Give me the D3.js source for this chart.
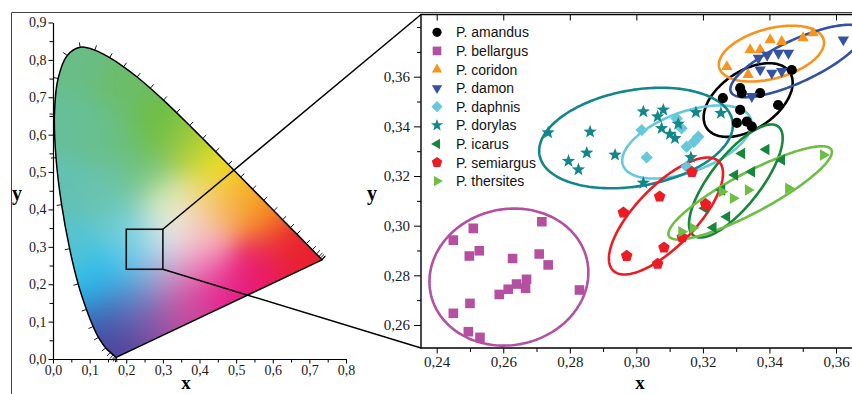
<!DOCTYPE html>
<html><head><meta charset="utf-8">
<script src="https://cdn.jsdelivr.net/npm/d3@7"></script>
<style>body{margin:0;background:#fff}svg{display:block}</style>
</head><body>
<svg id="chart" width="852" height="394"></svg>
<script>
// ---------------- DATA ----------------
// CIE 1931 spectral locus (wavelength nm, x, y)
const locusWavelengths = [380,390,400,410,420,430,440,450,460,470,475,480,485,490,495,500,505,510,515,520,525,530,535,540,545,550,555,560,565,570,575,580,585,590,595,600,605,610,620,630,640,650,660,680,700];
const locusX = [0.1741,0.1738,0.1733,0.1726,0.1714,0.1689,0.1644,0.1566,0.1440,0.1241,0.1096,0.0913,0.0687,0.0454,0.0235,0.0082,0.0039,0.0139,0.0389,0.0743,0.1142,0.1547,0.1929,0.2296,0.2658,0.3016,0.3373,0.3731,0.4087,0.4441,0.4788,0.5125,0.5448,0.5752,0.6029,0.6270,0.6482,0.6658,0.6915,0.7079,0.7190,0.7260,0.7300,0.7334,0.7347];
const locusY = [0.0050,0.0049,0.0048,0.0048,0.0051,0.0069,0.0109,0.0177,0.0297,0.0578,0.0868,0.1327,0.2007,0.2950,0.4127,0.5384,0.6548,0.7502,0.8120,0.8338,0.8262,0.8059,0.7816,0.7543,0.7243,0.6923,0.6589,0.6245,0.5896,0.5547,0.5202,0.4866,0.4544,0.4242,0.3965,0.3725,0.3514,0.3340,0.3083,0.2920,0.2809,0.2740,0.2700,0.2666,0.2653];

const leftXTicks = [0,0.1,0.2,0.3,0.4,0.5,0.6,0.7,0.8];
const leftXMinor = [0.05,0.15,0.25,0.35,0.45,0.55,0.65,0.75];
const leftYTicks = [0,0.1,0.2,0.3,0.4,0.5,0.6,0.7,0.8,0.9];
const leftYMinor = [0.05,0.15,0.25,0.35,0.45,0.55,0.65,0.75,0.85];
const zoomBoxX = [0.2, 0.3];
const zoomBoxY = [0.24, 0.347];

const rightXTicks = [0.24,0.26,0.28,0.30,0.32,0.34,0.36];
const rightXMinor = [0.25,0.27,0.29,0.31,0.33,0.35];
const rightYTicks = [0.26,0.28,0.30,0.32,0.34,0.36];
const rightYMinor = [0.27,0.29,0.31,0.33,0.35,0.37,0.38];

const speciesNames = ["P. amandus","P. bellargus","P. coridon","P. damon","P. daphnis","P. dorylas","P. icarus","P. semiargus","P. thersites"];

const amandus = [[0.3260,0.3514],[0.3312,0.3554],[0.3317,0.3534],[0.3372,0.3534],[0.3426,0.3486],[0.3312,0.3466],[0.3302,0.3414],[0.3332,0.3419],[0.3347,0.3399],[0.3467,0.3627]];
const bellargus = [[0.2716,0.3016],[0.2510,0.2989],[0.2450,0.2942],[0.2498,0.2878],[0.2528,0.2899],[0.2628,0.2868],[0.2708,0.2886],[0.2735,0.2842],[0.2670,0.2784],[0.2640,0.2765],[0.2667,0.2748],[0.2615,0.2744],[0.2588,0.2723],[0.2829,0.2741],[0.2500,0.2687],[0.2450,0.2647],[0.2495,0.2573],[0.2530,0.2550]];
const coridon = [[0.3272,0.3640],[0.3342,0.3708],[0.3372,0.3708],[0.3402,0.3748],[0.3437,0.3741],[0.3501,0.3756],[0.3531,0.3776],[0.3336,0.3608]];
const damon = [[0.3622,0.3749],[0.3367,0.3675],[0.3393,0.3687],[0.3427,0.3695],[0.3457,0.3695],[0.3372,0.3628],[0.3407,0.3615],[0.3437,0.3622],[0.3347,0.3521]];
const daphnis = [[0.3016,0.3385],[0.3121,0.3432],[0.3136,0.3392],[0.3186,0.3358],[0.3173,0.3338],[0.3151,0.3318],[0.3031,0.3275],[0.3151,0.3238]];
const dorylas = [[0.2735,0.3375],[0.2861,0.3378],[0.2851,0.3293],[0.2796,0.3260],[0.2826,0.3226],[0.2936,0.3285],[0.3021,0.3459],[0.3081,0.3466],[0.3064,0.3439],[0.3076,0.3392],[0.3101,0.3369],[0.3116,0.3352],[0.3126,0.3410],[0.3179,0.3456],[0.3254,0.3453],[0.3164,0.3275],[0.3021,0.3172]];
const icarus = [[0.3317,0.3291],[0.3390,0.3307],[0.3437,0.3265],[0.3347,0.3217],[0.3296,0.3204],[0.3257,0.3144],[0.3206,0.3070],[0.3272,0.3036],[0.3231,0.2993]];
const semiargus = [[0.3070,0.3117],[0.2961,0.3053],[0.2971,0.2878],[0.3083,0.2912],[0.3064,0.2846],[0.3208,0.3087],[0.3138,0.2953],[0.3167,0.3216]];
const thersites = [[0.3562,0.3285],[0.3336,0.3144],[0.3457,0.3151],[0.3291,0.3110],[0.3257,0.3137],[0.3136,0.2976],[0.3170,0.2991]];

// confidence ellipses: centre, major semi-axis vector, minor semi-axis vector (data units)
const ellipseCX = [0.3336,0.2617,0.3406,0.3483,0.3152,0.2999,0.3299,0.3089,0.3342];
const ellipseCY = [0.3506,0.2793,0.3693,0.3663,0.3337,0.3353,0.3180,0.3039,0.3132];
const ellipseMajDX = [0.01246,0.02350,0.01568,0.01987,0.01920,0.02900,0.01277,0.01587,0.02440];
const ellipseMajDY = [0.01126,0.00669,0.00563,0.01244,0.00937,0.00685,0.02191,0.02199,0.01740];
const ellipseMinDX = [0.00487,0.00424,0.00194,0.00267,0.00308,0.00251,0.00592,0.00649,0.00282];
const ellipseMinDY = [-0.00967,-0.02678,-0.00973,-0.00766,-0.01135,-0.01905,-0.00620,-0.00840,-0.00711];

// ---------------- STYLE ----------------
const speciesColors = ["#000000","#b4509f","#f7941d","#3452a4","#66c8dc","#11878a","#17853b","#ed1c24","#6dbe45"];
const speciesShapes = ["circle","square","triUp","triDown","diamond","star","triLeft","pentagon","triRight"];
const gradientStops = [
 [0.08,0.80,'#69bd86'],[0.20,0.74,'#6cbd68'],[0.28,0.62,'#6dbe45'],[0.37,0.56,'#a4cb3b'],
 [0.45,0.50,'#f1e514'],[0.52,0.44,'#f7b21c'],[0.58,0.38,'#f4861f'],[0.66,0.31,'#e9252a'],
 [0.70,0.28,'#e81e30'],[0.56,0.26,'#e91a6c'],[0.45,0.20,'#e61b8a'],[0.35,0.14,'#c8489e'],
 [0.25,0.09,'#8a4d9f'],[0.18,0.03,'#4b3f98'],[0.15,0.11,'#3b60b1'],[0.12,0.20,'#28bdef'],
 [0.05,0.30,'#55c3d2'],[0.03,0.45,'#63c1b3'],[0.06,0.62,'#66bf9a'],[0.15,0.45,'#6ac3ae'],
 [0.15,0.60,'#6abf88'],[0.25,0.50,'#6cc07a'],[0.20,0.35,'#6ccbd0'],[0.20,0.25,'#3dc3ee'],
 [0.26,0.30,'#a8def2'],[0.33,0.34,'#f7f7f4'],[0.31,0.42,'#dcedb8'],[0.41,0.42,'#f4e2a0'],
 [0.40,0.33,'#f5c0c8'],[0.40,0.26,'#ef8fc0'],[0.30,0.22,'#c29ac8'],[0.22,0.16,'#5a8ccc'],
 [0.47,0.40,'#f6a45a']
];
const SERIF = '"Liberation Serif","Times New Roman",serif';
const SANS = '"Liberation Sans",Arial,sans-serif';

// ---------------- DRAW ----------------
const svg = d3.select('#chart');
const defs = svg.append('defs');

const xL = d3.scaleLinear().domain([0,0.8]).range([53,346]);
const yL = d3.scaleLinear().domain([0,0.9]).range([359,22.5]);
const xR = d3.scaleLinear().domain([0.24,0.36]).range([436.7,836]);
const yR = d3.scaleLinear().domain([0.26,0.36]).range([325,76.7]);
const R = {l:421, t:14.5, r:852, b:348};

// outer frame
svg.append('path').attr('d',`M11.5,394V12.5H852`).attr('fill','none').attr('stroke','#444').attr('stroke-width',1);

// chromaticity gradient
const stops = gradientStops.map(([x,y,c])=>{const k=d3.rgb(c);return {x,y,r:k.r,g:k.g,b:k.b};});
const gx0 = Math.floor(xL(0)), gy0 = Math.floor(yL(0.9));
const gW = Math.ceil(xL(0.8))-gx0, gH = Math.ceil(yL(0))-gy0;
const cv = document.createElement('canvas'); cv.width=gW; cv.height=gH;
const ctx = cv.getContext('2d'); const img = ctx.createImageData(gW,gH);
const s2 = 2*0.055*0.055;
for(let j=0;j<gH;j++){
  const y = yL.invert(gy0+j+0.5);
  for(let i=0;i<gW;i++){
    const x = xL.invert(gx0+i+0.5);
    let mn = 1e9; const d2s = stops.map(s=>{const d=(x-s.x)**2+(y-s.y)**2; if(d<mn)mn=d; return d;});
    let W=0,r=0,g=0,b=0;
    for(let k=0;k<stops.length;k++){const w=Math.exp(-(d2s[k]-mn)/s2); W+=w; r+=w*stops[k].r; g+=w*stops[k].g; b+=w*stops[k].b;}
    const o=(j*gW+i)*4; img.data[o]=r/W; img.data[o+1]=g/W; img.data[o+2]=b/W; img.data[o+3]=255;
  }
}
ctx.putImageData(img,0,0);
const locusPts = locusX.map((x,i)=>[xL(x), yL(locusY[i])]);
const locusD = d3.line().curve(d3.curveCatmullRom)(locusPts)+'Z';
defs.append('clipPath').attr('id','locusClip').append('path').attr('d',locusD);
svg.append('image').attr('href',cv.toDataURL()).attr('x',gx0).attr('y',gy0).attr('width',gW).attr('height',gH)
  .attr('preserveAspectRatio','none').attr('clip-path','url(#locusClip)');
svg.append('path').attr('d',locusD).attr('fill','none').attr('stroke','#000').attr('stroke-width',1.5);

// wavelength ticks on locus
const wp = [xL(0.333), yL(0.333)];
const tickG = svg.append('g').attr('stroke','#000').attr('stroke-width',0.9);
locusPts.forEach((p,i)=>{
  const a = locusPts[Math.max(0,i-1)], c = locusPts[Math.min(locusPts.length-1,i+1)];
  const tx=c[0]-a[0], ty=c[1]-a[1], len=Math.hypot(tx,ty);
  if(len<0.4) return;
  let nx=-ty/len, ny=tx/len;
  if(nx*(p[0]-wp[0])+ny*(p[1]-wp[1])<0){nx=-nx;ny=-ny;}
  tickG.append('line').attr('x1',p[0]).attr('y1',p[1]).attr('x2',p[0]+5*nx).attr('y2',p[1]+5*ny);
});

// left axes
const f1 = d=>d3.format('.1f')(d).replace('.',',');
const f2 = d=>d3.format('.2f')(d).replace('.',',');
function styleAxis(g,size){ g.attr('font-family',SERIF).attr('font-size',size); g.selectAll('text').attr('fill','#1a1a1a'); g.selectAll('line').attr('stroke','#000'); g.select('.domain').attr('stroke','#000').attr('stroke-width',1.2); }
const axXL = svg.append('g').attr('transform','translate(0,359)');
axXL.call(d3.axisBottom(xL).tickValues(leftXTicks).tickFormat(f1).tickSize(4.5).tickSizeOuter(0).tickPadding(2));
styleAxis(axXL,14);
svg.append('g').attr('transform','translate(0,359)').call(d3.axisBottom(xL).tickValues(leftXMinor).tickFormat('').tickSize(3.5).tickSizeOuter(0)).call(g=>g.select('.domain').remove());
const axYL = svg.append('g').attr('transform','translate(53,0)');
axYL.call(d3.axisLeft(yL).tickValues(leftYTicks).tickFormat(f1).tickSize(4.5).tickSizeOuter(0).tickPadding(2));
styleAxis(axYL,14);
svg.append('g').attr('transform','translate(53,0)').call(d3.axisLeft(yL).tickValues(leftYMinor).tickFormat('').tickSize(3.5).tickSizeOuter(0)).call(g=>g.select('.domain').remove());
svg.append('text').text('x').attr('x',186).attr('y',389).attr('text-anchor','middle').attr('font-family',SERIF).attr('font-weight','bold').attr('font-size',19);
svg.append('text').text('y').attr('x',17).attr('y',200).attr('text-anchor','middle').attr('font-family',SERIF).attr('font-weight','bold').attr('font-size',20);

// zoom box and connectors
svg.append('rect').attr('x',xL(zoomBoxX[0])).attr('y',yL(zoomBoxY[1])).attr('width',xL(zoomBoxX[1])-xL(zoomBoxX[0])).attr('height',yL(zoomBoxY[0])-yL(zoomBoxY[1]))
  .attr('fill','none').attr('stroke','#111').attr('stroke-width',1.6);
svg.append('line').attr('x1',xL(zoomBoxX[1])).attr('y1',yL(zoomBoxY[1])).attr('x2',R.l).attr('y2',R.t).attr('stroke','#000').attr('stroke-width',1.5);
svg.append('line').attr('x1',xL(zoomBoxX[1])).attr('y1',yL(zoomBoxY[0])).attr('x2',R.l).attr('y2',R.b).attr('stroke','#000').attr('stroke-width',1.5);

// right panel
defs.append('clipPath').attr('id','rClip').append('rect').attr('x',R.l).attr('y',R.t).attr('width',R.r-R.l).attr('height',R.b-R.t);
svg.append('rect').attr('x',R.l).attr('y',R.t).attr('width',R.r-R.l).attr('height',R.b-R.t).attr('fill','#fff');

const axXR = svg.append('g').attr('transform',`translate(0,${R.b})`);
axXR.call(d3.axisBottom(xR).tickValues(rightXTicks).tickFormat(f2).tickSize(5.5).tickSizeOuter(0).tickPadding(3));
styleAxis(axXR,15); axXR.select('.domain').remove();
svg.append('g').attr('transform',`translate(0,${R.b})`).call(d3.axisBottom(xR).tickValues(rightXMinor).tickFormat('').tickSize(4).tickSizeOuter(0)).call(g=>g.select('.domain').remove());
const axTop = svg.append('g').attr('transform',`translate(0,${R.t})`);
axTop.call(d3.axisBottom(xR).tickValues(rightXTicks).tickFormat('').tickSize(6).tickSizeOuter(0)).call(g=>g.select('.domain').remove());
const axYR = svg.append('g').attr('transform',`translate(${R.l},0)`);
axYR.call(d3.axisLeft(yR).tickValues(rightYTicks).tickFormat(f2).tickSize(7).tickSizeOuter(0).tickPadding(4));
styleAxis(axYR,15); axYR.select('.domain').remove();
svg.append('g').attr('transform',`translate(${R.l},0)`).call(d3.axisLeft(yR).tickValues(rightYMinor).tickFormat('').tickSize(4).tickSizeOuter(0)).call(g=>g.select('.domain').remove());
svg.append('path').attr('d',`M${R.r},${R.b}H${R.l}V${R.t}H${R.r}`).attr('fill','none').attr('stroke','#000').attr('stroke-width',1.4);
svg.append('text').text('x').attr('x',640).attr('y',389).attr('text-anchor','middle').attr('font-family',SERIF).attr('font-weight','bold').attr('font-size',19);
svg.append('text').text('y').attr('x',372).attr('y',200).attr('text-anchor','middle').attr('font-family',SERIF).attr('font-weight','bold').attr('font-size',20);

// marker shapes
function poly(pts){return 'M'+pts.map(p=>p[0].toFixed(2)+','+p[1].toFixed(2)).join('L')+'Z';}
function regular(n,Rr,rot){const a0=rot*Math.PI/180;return poly(d3.range(n).map(k=>{const a=a0+k*2*Math.PI/n;return [Rr*Math.cos(a),Rr*Math.sin(a)];}));}
function starP(Ro,Ri){return poly(d3.range(10).map(k=>{const a=-Math.PI/2+k*Math.PI/5,r=k%2?Ri:Ro;return [r*Math.cos(a),r*Math.sin(a)];}));}
const shapeFns = {
  circle:s=>d3.symbol(d3.symbolCircle,Math.PI*(5.1*s)**2)(),
  square:s=>{const h=4.8*s;return poly([[-h,-h],[h,-h],[h,h],[-h,h]]);},
  triUp:s=>regular(3,6.6*s,-90), triDown:s=>regular(3,6.6*s,90),
  triLeft:s=>regular(3,6.6*s,180), triRight:s=>regular(3,6.6*s,0),
  diamond:s=>regular(4,6.2*s,-90), star:s=>starP(7*s,2.9*s), pentagon:s=>regular(5,6.1*s,-90)
};

const plot = svg.append('g').attr('clip-path','url(#rClip)');
const allPoints = [amandus,bellargus,coridon,damon,daphnis,dorylas,icarus,semiargus,thersites];
// ellipses
const ts = d3.range(0,2*Math.PI,Math.PI/90);
speciesNames.forEach((n,i)=>{
  const pts = ts.map(t=>[xR(ellipseCX[i]+Math.cos(t)*ellipseMajDX[i]+Math.sin(t)*ellipseMinDX[i]), yR(ellipseCY[i]+Math.cos(t)*ellipseMajDY[i]+Math.sin(t)*ellipseMinDY[i])]);
  plot.append('path').attr('d',d3.line().curve(d3.curveLinearClosed)(pts)).attr('fill','none').attr('stroke',speciesColors[i]).attr('stroke-width',2.6);
});
// points
speciesNames.forEach((n,i)=>{
  const d = shapeFns[speciesShapes[i]](1);
  plot.append('g').selectAll('path').data(allPoints[i]).join('path')
    .attr('d',d).attr('transform',p=>`translate(${xR(p[0])},${yR(p[1])})`).attr('fill',speciesColors[i]);
});
// legend
const leg = svg.append('g');
speciesNames.forEach((n,i)=>{
  const cy = 32.3+18.6*i;
  leg.append('path').attr('d',shapeFns[speciesShapes[i]](0.9)).attr('transform',`translate(437,${cy})`).attr('fill',speciesColors[i]);
  leg.append('text').text(n).attr('x',456).attr('y',cy+5).attr('font-family',SANS).attr('font-size',14).attr('fill','#111');
});
</script>
</body></html>
